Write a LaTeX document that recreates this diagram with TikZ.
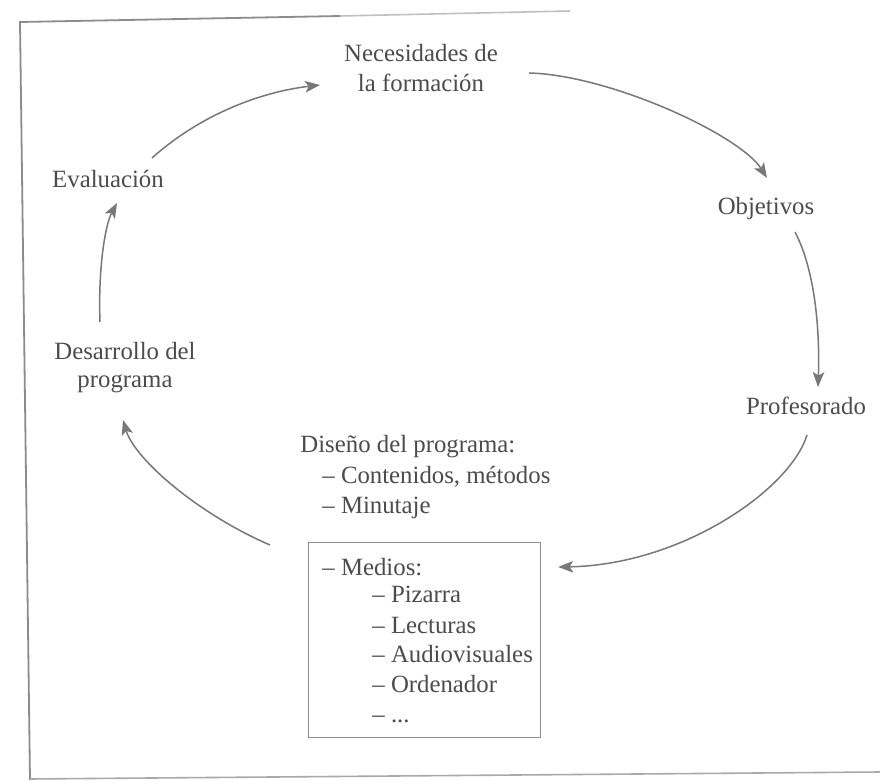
\documentclass[tikz,border=0pt]{standalone}
\usepackage{fontspec}
\setmainfont{Liberation Serif}
\usetikzlibrary{arrows.meta,calc}
\definecolor{ink}{HTML}{4C4C4C}
\definecolor{wire}{HTML}{787878}
\definecolor{framec}{HTML}{8C8C8C}
\begin{document}
\begin{tikzpicture}[x=0.5pt,y=-0.5pt,
  font=\fontsize{12.4}{14}\selectfont,
  every node/.style={text=ink, inner sep=0pt},
  lbl/.style={anchor=base},
  item/.style={anchor=base west},
  arr/.style={draw=wire, line width=0.75pt, -{Stealth[length=7.5pt,width=5.8pt,inset=1.8pt]}},
  boxst/.style={draw=framec, line width=0.6pt, anchor=north west, minimum width=116pt, minimum height=97.5pt}]
\useasboundingbox (0,0) rectangle (880,781);
\fill[white] (0,0) rectangle (880,781);
% page frame
\draw[framec, line width=0.9pt] (30,780) -- (20,22) -- (340,16);
\draw[framec!55, line width=0.8pt] (340,16) -- (570,11);
\draw[framec!75, line width=0.8pt] (30,779) -- (880,772);
% labels
\node[lbl] (nec1) at (421,62) {Necesidades de};
\node[lbl] (nec2) at (421,92) {la formación};
\node[lbl] (obj) at (766,215) {Objetivos};
\node[lbl] (prof) at (806,415) {Profesorado};
\node[lbl] (eva) at (108,188) {Evaluación};
\node[lbl] (des1) at (125,359) {Desarrollo del};
\node[lbl] (des2) at (125,387) {programa};
\node[item] (dis) at (300,452) {Diseño del programa:};
\node[item] (con) at (322,483) {– Contenidos, métodos};
\node[item] (mnt) at (322,513) {– Minutaje};
\node[boxst] (box) at (308,542) {};
\node[item] (med) at (322,575) {– Medios:};
\node[item] (piz) at (372,603) {– Pizarra};
\node[item] (lec) at (372,633) {– Lecturas};
\node[item] (aud) at (372,662) {– Audiovisuales};
\node[item] (ord) at (372,692) {– Ordenador};
\node[item] (etc) at (372,722) {– ...};
% arrows
\draw[arr] ($(eva.base)+(44,-30)$) .. controls +(48,-43) and +(-60,7) .. ($(nec2.base)+(-101,-7)$);
\draw[arr] ($(nec1.base)+(108,11)$) .. controls +(81,2) and +(-27,-43) .. ($(obj.base)+(1,-37)$);
\draw[arr] ($(obj.base)+(29,17)$) .. controls +(20,38) and +(2,-57) .. ($(prof.base)+(12,-28)$);
\draw[arr] ($(prof.base)+(1,20)$) .. controls +(-17,55) and +(123,-2) .. ($(box.north east)+(17,25)$);
\draw[arr] ($(box.north west)+(-38,3)$) .. controls +(-70,-30) and +(12,40) .. ($(des2.base)+(-2,33)$);
\draw[arr] ($(des1.base)+(-25,-37)$) .. controls +(-2,-52) and +(-12,22) .. ($(eva.base)+(9,15)$);
\end{tikzpicture}
\end{document}
